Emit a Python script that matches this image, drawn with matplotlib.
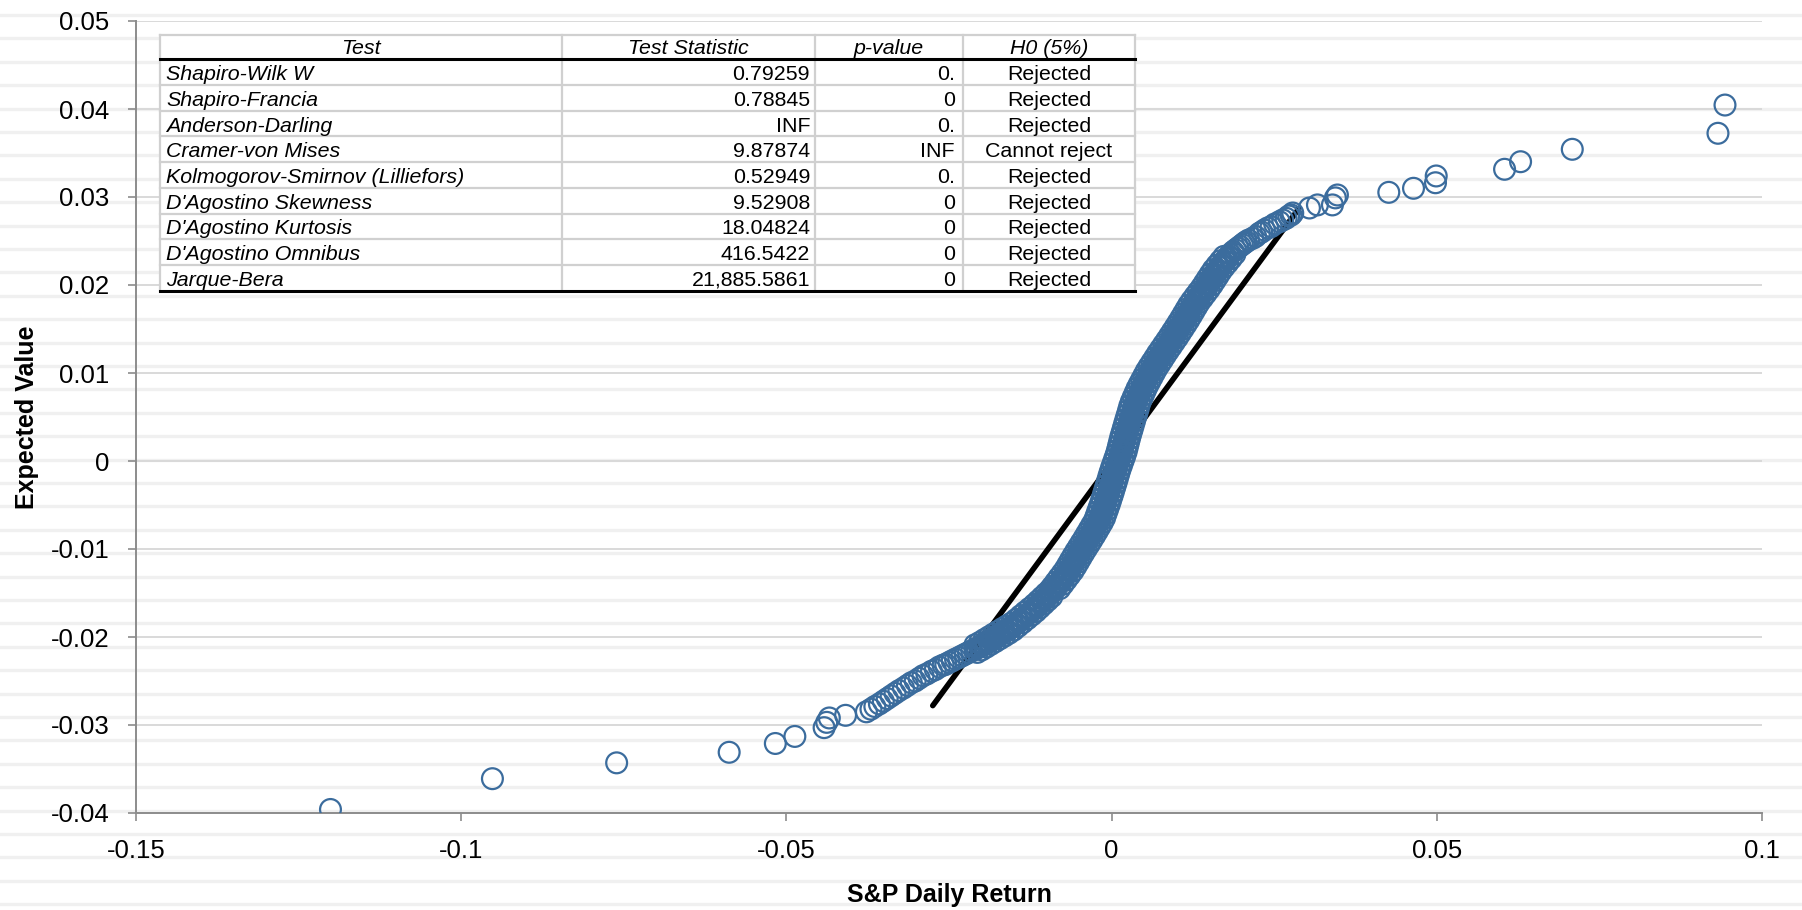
import matplotlib
matplotlib.use('Agg')
import matplotlib.pyplot as plt
from matplotlib.lines import Line2D
from matplotlib.patches import Rectangle
from matplotlib.ticker import FuncFormatter, MultipleLocator

plt.rcParams['font.family'] = ['Liberation Sans', 'DejaVu Sans']

# ---- data --------------------------------------------------------------
# tails and the sparse ring section: S&P daily return (x), expected value (y)
tail_return = [
    -0.1201, -0.0952, -0.0761, -0.0588, -0.0517, -0.0487, -0.0442, -0.0438, -0.0434, -0.0409, -0.0377,
    -0.0370, -0.0364, -0.0357, -0.0351, -0.0345, -0.0339, -0.0333, -0.0327, -0.0320, -0.0314,
    -0.0308, -0.0302, -0.0296, -0.0290, -0.0284, -0.0277, -0.0271, -0.0265, -0.0259,
    -0.0255, -0.0250, -0.0245, -0.0240, -0.0235, -0.0230, -0.0225, -0.0220, -0.0215,
    0.01869, 0.01905, 0.0194, 0.01976, 0.02011, 0.02041,
    0.02068, 0.02107, 0.02169, 0.02215, 0.02272, 0.02307, 0.02349, 0.0240, 0.02452, 0.02508,
    0.0258, 0.02631, 0.02683, 0.02723, 0.0276, 0.02785,
    0.03042, 0.03165, 0.03395, 0.03441, 0.03472,
    0.04262, 0.04642, 0.0498, 0.04991, 0.06042, 0.06288, 0.07083, 0.09323, 0.09431,
]
tail_expected = [
    -0.0396, -0.0361, -0.0343, -0.0331, -0.0321, -0.0313, -0.0303, -0.0297, -0.0292, -0.0289, -0.0285,
    -0.0282, -0.0279, -0.0276, -0.0273, -0.0270, -0.0267, -0.0264, -0.0261, -0.0258, -0.0255,
    -0.0252, -0.0250, -0.0247, -0.0244, -0.0242, -0.0239, -0.0237, -0.0234, -0.0232,
    -0.0231, -0.02289, -0.0227, -0.02251, -0.02233, -0.02214, -0.02195, -0.02176, -0.02157,
    0.0238, 0.024, 0.0242, 0.0244, 0.0246, 0.02477,
    0.02492, 0.02511, 0.02531, 0.02551, 0.02588, 0.02602, 0.02625, 0.02648, 0.02663, 0.02693,
    0.02719, 0.02739, 0.02758, 0.02784, 0.02795, 0.02818,
    0.02875, 0.0291, 0.0291, 0.0299, 0.03023,
    0.03053, 0.03099, 0.03162, 0.03239, 0.03315, 0.03401, 0.03542, 0.03724, 0.04045,
]

# dense middle of the band, along its centre
core_return = [
    -0.0210, -0.02065, -0.0203, -0.01995, -0.0196, -0.01925, -0.0189, -0.01855, -0.0182, -0.01785,
    -0.0175, -0.01715, -0.0168, -0.01645, -0.0161, -0.01575, -0.0154, -0.01505, -0.0147, -0.01435,
    -0.0140, -0.01365, -0.0133, -0.01295, -0.0126, -0.01225, -0.0119, -0.0116, -0.0113, -0.0110,
    -0.0107, -0.0104, -0.0101, -0.0098, -0.0095, -0.0092, -0.0089,
    -0.00866, -0.0084, -0.00815, -0.00789, -0.00764, -0.00739, -0.00713, -0.00688, -0.00662, -0.0064,
    -0.0062, -0.0060, -0.0058, -0.00561, -0.00541, -0.00521, -0.00501, -0.0048, -0.00459, -0.00437,
    -0.00416, -0.00395, -0.00374, -0.00352, -0.00332, -0.00312, -0.00292, -0.00272, -0.00253, -0.00233,
    -0.00213, -0.00193, -0.00179, -0.00168, -0.00156, -0.00144, -0.00132, -0.0012, -0.00108, -0.00096,
    -0.00086, -0.00075, -0.00064, -0.00054, -0.00043, -0.00033, -0.00022, -0.00012, -0.00002, 0.00008,
    0.00018, 0.00028, 0.00038, 0.00048, 0.00058, 0.0007, 0.00082, 0.00094, 0.00106, 0.00118,
    0.0013, 0.00141, 0.00152, 0.00161, 0.00169, 0.00178, 0.00186, 0.00195, 0.00203, 0.00212,
    0.00222, 0.00232, 0.00242, 0.00251, 0.00261, 0.00271, 0.00281, 0.00291, 0.00301, 0.00311,
    0.00321, 0.00331, 0.00341, 0.0035, 0.0036, 0.00374, 0.00388, 0.00403, 0.00418, 0.00433,
    0.00448, 0.00462, 0.00479, 0.00497, 0.00515, 0.00533, 0.00551, 0.00569, 0.00587, 0.00605,
    0.00625, 0.00647, 0.00669, 0.00691, 0.00713, 0.00735, 0.00756, 0.00778, 0.00801, 0.00825,
    0.00848, 0.00871, 0.00894, 0.00918, 0.00941, 0.00963, 0.00985, 0.01007, 0.01029, 0.01051,
    0.01073, 0.01094, 0.01116, 0.01136, 0.01156, 0.01176, 0.01196, 0.01216, 0.01236, 0.01256,
    0.01277, 0.01303, 0.01328, 0.01353, 0.01379, 0.01404, 0.0143, 0.01455, 0.01477, 0.01499,
    0.01521, 0.01543, 0.01565, 0.01587, 0.01608, 0.01632, 0.01659, 0.01687, 0.01715, 0.01742,
    0.0177, 0.01798, 0.01825,
]
core_expected = [
    -0.02139, -0.02125, -0.02112, -0.02096, -0.0208, -0.02065, -0.02049, -0.02033, -0.02017, -0.02002,
    -0.01986, -0.0197, -0.01954, -0.01939, -0.01923, -0.01907, -0.01891, -0.01872, -0.01851, -0.01829,
    -0.01808, -0.01787, -0.01765, -0.01744, -0.01723, -0.01701, -0.0168, -0.0166, -0.01639, -0.01618,
    -0.01597, -0.01576, -0.01555, -0.01534, -0.01513, -0.01492, -0.01472,
    -0.0145, -0.01425, -0.014, -0.01375, -0.0135, -0.01325, -0.013, -0.01275, -0.0125, -0.01225,
    -0.012, -0.01175, -0.0115, -0.01125, -0.011, -0.01075, -0.0105, -0.01025, -0.01, -0.00975,
    -0.0095, -0.00925, -0.009, -0.00875, -0.0085, -0.00825, -0.008, -0.00775, -0.0075, -0.00725,
    -0.007, -0.00675, -0.0065, -0.00625, -0.006, -0.00575, -0.0055, -0.00525, -0.005, -0.00475,
    -0.0045, -0.00425, -0.004, -0.00375, -0.0035, -0.00325, -0.003, -0.00275, -0.0025, -0.00225,
    -0.002, -0.00175, -0.0015, -0.00125, -0.001, -0.00075, -0.0005, -0.00025, 0.0, 0.00025,
    0.0005, 0.00075, 0.001, 0.00125, 0.0015, 0.00175, 0.002, 0.00225, 0.0025, 0.00275,
    0.003, 0.00325, 0.0035, 0.00375, 0.004, 0.00425, 0.0045, 0.00475, 0.005, 0.00525,
    0.0055, 0.00575, 0.006, 0.00625, 0.0065, 0.00675, 0.007, 0.00725, 0.0075, 0.00775,
    0.008, 0.00825, 0.0085, 0.00875, 0.009, 0.00925, 0.0095, 0.00975, 0.01, 0.01025,
    0.0105, 0.01075, 0.011, 0.01125, 0.0115, 0.01175, 0.012, 0.01225, 0.0125, 0.01275,
    0.013, 0.01325, 0.0135, 0.01375, 0.014, 0.01425, 0.0145, 0.01475, 0.015, 0.01525,
    0.0155, 0.01575, 0.016, 0.01625, 0.0165, 0.01675, 0.017, 0.01725, 0.0175, 0.01775,
    0.018, 0.01825, 0.0185, 0.01875, 0.019, 0.01925, 0.0195, 0.01975, 0.02, 0.02025,
    0.0205, 0.02075, 0.021, 0.02125, 0.0215, 0.02175, 0.022, 0.02225, 0.0225, 0.02275,
    0.023, 0.02325, 0.0235,
]

# dense middle of the band, points spread either side of the centre
spread_return = [
    -0.0210, -0.02065, -0.0203, -0.01995, -0.0196, -0.01925, -0.0189, -0.01855, -0.0182, -0.01785,
    -0.0175, -0.01715, -0.0168, -0.01645, -0.0161, -0.01575, -0.0154, -0.01505, -0.0147, -0.01435,
    -0.0140, -0.01365, -0.0133, -0.01295, -0.0126, -0.01225, -0.0119, -0.0116, -0.0113, -0.0110,
    -0.0107, -0.0104, -0.0101, -0.0098, -0.0095, -0.0092, -0.0089,
    -0.00796, -0.0091, -0.00745, -0.00859, -0.00694, -0.00809, -0.00643, -0.00758, -0.00592, -0.0071,
    -0.0055, -0.0067, -0.0051, -0.00631, -0.00471, -0.00591, -0.00431, -0.0055, -0.00389, -0.00507,
    -0.00346, -0.00465, -0.00304, -0.00422, -0.00262, -0.00382, -0.00222, -0.00342, -0.00183, -0.00303,
    -0.00143, -0.00263, -0.00109, -0.00238, -0.00086, -0.00214, -0.00062, -0.0019, -0.00038, -0.00166,
    -0.00016, -0.00145, 0.00006, -0.00124, 0.00027, -0.00103, 0.00048, -0.00082, 0.00068, -0.00062,
    0.00088, -0.00042, 0.00108, -0.00022, 0.00128, 0.0, 0.00152, 0.00024, 0.00176, 0.00048,
    0.002, 0.00071, 0.00222, 0.00091, 0.00239, 0.00108, 0.00256, 0.00125, 0.00273, 0.00142,
    0.00292, 0.00162, 0.00312, 0.00181, 0.00331, 0.00201, 0.00351, 0.00221, 0.00371, 0.00241,
    0.00391, 0.00261, 0.00411, 0.0028, 0.0043, 0.00304, 0.00458, 0.00333, 0.00488, 0.00363,
    0.00518, 0.00392, 0.00549, 0.00427, 0.00585, 0.00463, 0.00621, 0.00499, 0.00657, 0.00535,
    0.00695, 0.00577, 0.00739, 0.00621, 0.00783, 0.00665, 0.00826, 0.00708, 0.00871, 0.00755,
    0.00918, 0.00801, 0.00964, 0.00848, 0.01011, 0.00893, 0.01055, 0.00937, 0.01099, 0.00981,
    0.01143, 0.01024, 0.01186, 0.01066, 0.01226, 0.01106, 0.01266, 0.01146, 0.01306, 0.01186,
    0.01347, 0.01233, 0.01398, 0.01283, 0.01449, 0.01334, 0.0150, 0.01385, 0.01547, 0.01429,
    0.01591, 0.01473, 0.01635, 0.01517, 0.01678, 0.01562, 0.01729, 0.01617, 0.01785, 0.01672,
    0.0184, 0.01728, 0.01895,
]
spread_expected = [
    -0.02089, -0.02175, -0.02062, -0.02146, -0.0203, -0.02115, -0.01999, -0.02083, -0.01967, -0.02052,
    -0.01936, -0.0202, -0.01904, -0.01989, -0.01873, -0.01957, -0.01841, -0.01922, -0.01801, -0.01879,
    -0.01758, -0.01837, -0.01715, -0.01794, -0.01673, -0.01751, -0.0163, -0.0171, -0.01589, -0.01668,
    -0.01547, -0.01626, -0.01505, -0.01584, -0.01463, -0.01542, -0.01422,
    -0.0145, -0.01425, -0.014, -0.01375, -0.0135, -0.01325, -0.013, -0.01275, -0.0125, -0.01225,
    -0.012, -0.01175, -0.0115, -0.01125, -0.011, -0.01075, -0.0105, -0.01025, -0.01, -0.00975,
    -0.0095, -0.00925, -0.009, -0.00875, -0.0085, -0.00825, -0.008, -0.00775, -0.0075, -0.00725,
    -0.007, -0.00675, -0.0065, -0.00625, -0.006, -0.00575, -0.0055, -0.00525, -0.005, -0.00475,
    -0.0045, -0.00425, -0.004, -0.00375, -0.0035, -0.00325, -0.003, -0.00275, -0.0025, -0.00225,
    -0.002, -0.00175, -0.0015, -0.00125, -0.001, -0.00075, -0.0005, -0.00025, 0.0, 0.00025,
    0.0005, 0.00075, 0.001, 0.00125, 0.0015, 0.00175, 0.002, 0.00225, 0.0025, 0.00275,
    0.003, 0.00325, 0.0035, 0.00375, 0.004, 0.00425, 0.0045, 0.00475, 0.005, 0.00525,
    0.0055, 0.00575, 0.006, 0.00625, 0.0065, 0.00675, 0.007, 0.00725, 0.0075, 0.00775,
    0.008, 0.00825, 0.0085, 0.00875, 0.009, 0.00925, 0.0095, 0.00975, 0.01, 0.01025,
    0.0105, 0.01075, 0.011, 0.01125, 0.0115, 0.01175, 0.012, 0.01225, 0.0125, 0.01275,
    0.013, 0.01325, 0.0135, 0.01375, 0.014, 0.01425, 0.0145, 0.01475, 0.015, 0.01525,
    0.0155, 0.01575, 0.016, 0.01625, 0.0165, 0.01675, 0.017, 0.01725, 0.0175, 0.01775,
    0.018, 0.01825, 0.0185, 0.01875, 0.019, 0.01925, 0.0195, 0.01975, 0.02, 0.02025,
    0.0205, 0.02075, 0.021, 0.02125, 0.0215, 0.02175, 0.022, 0.02225, 0.0225, 0.02275,
    0.023, 0.02325, 0.0235,
]

# reference line
line_x = [-0.0275, 0.0288]
line_y = [-0.0278, 0.0287]

# normality test table
table_header = ['Test', 'Test Statistic', 'p-value', 'H0 (5%)']
test_names = ['Shapiro-Wilk W', 'Shapiro-Francia', 'Anderson-Darling', 'Cramer-von Mises',
              'Kolmogorov-Smirnov (Lilliefors)', "D'Agostino Skewness", "D'Agostino Kurtosis",
              "D'Agostino Omnibus", 'Jarque-Bera']
test_stats = ['0.79259', '0.78845', 'INF', '9.87874', '0.52949', '9.52908', '18.04824',
              '416.5422', '21,885.5861']
p_values = ['0.', '0', '0.', 'INF', '0.', '0', '0', '0', '0']
h0_results = ['Rejected', 'Rejected', 'Rejected', 'Cannot reject', 'Rejected', 'Rejected',
              'Rejected', 'Rejected', 'Rejected']

daily_return = tail_return + core_return + spread_return
expected_value = tail_expected + core_expected + spread_expected

# ---- figure -------------------------------------------------------------
W, H = 1802, 910
fig = plt.figure(figsize=(W / 100, H / 100), dpi=100)

# faint spreadsheet row stripes behind everything
for k in range(39):
    yy = 1 - (15 + 23.4 * k) / H
    fig.add_artist(Line2D([0, 1], [yy, yy], transform=fig.transFigure,
                          color='#f0f0f0', lw=2.4, zorder=-5))

AX_L, AX_R, AX_T, AX_B = 136, 1762, 21, 813
ax = fig.add_axes([AX_L / W, 1 - AX_B / H, (AX_R - AX_L) / W, (AX_B - AX_T) / H])
ax.patch.set_alpha(0)

ax.plot(line_x, line_y, color='black', lw=4.0, solid_capstyle='round', zorder=2)
ax.scatter(daily_return, expected_value, s=225, facecolors='none',
           edgecolors='#3b6c9d', linewidths=1.6, zorder=3)

ax.set_xlim(-0.15, 0.1)
ax.set_ylim(-0.04, 0.05)
ax.xaxis.set_major_locator(MultipleLocator(0.05))
ax.yaxis.set_major_locator(MultipleLocator(0.01))
fmt = FuncFormatter(lambda v, p: '%g' % round(v, 4))
ax.xaxis.set_major_formatter(fmt)
ax.yaxis.set_major_formatter(fmt)

ax.yaxis.grid(True, color='#d9d9d9', lw=1.4)
ax.set_axisbelow(True)
for side in ['top', 'right']:
    ax.spines[side].set_visible(False)
for side in ['left', 'bottom']:
    ax.spines[side].set_color('#8c8c8c')
    ax.spines[side].set_linewidth(1.4)
ax.tick_params(axis='both', direction='out', length=6, width=1.2, color='#8c8c8c',
               labelsize=18.5, labelcolor='black')
ax.tick_params(axis='y', pad=13)
ax.tick_params(axis='x', pad=13)

ax.set_xlabel('S&P Daily Return', fontsize=18, fontweight='bold')
ax.xaxis.set_label_coords(0.5, -0.104)
ax.xaxis.label.set_va('center')
ax.set_ylabel('Expected Value', fontsize=18, fontweight='bold')
ax.yaxis.set_label_coords(-0.067, 0.5)
ax.yaxis.label.set_va('center')

# ---- table (pixel layout -> axes fraction) ------------------------------
def to_ax(px, py):
    return (px - AX_L) / (AX_R - AX_L), (AX_B - py) / (AX_B - AX_T)

col_edges = [160, 562, 815, 963, 1135]
top, head_bot, row_h = 35, 59.3, 25.7
n_rows = len(test_names)
bottom = head_bot + n_rows * row_h
tkw = dict(transform=ax.transAxes, clip_on=False, zorder=6)

x0, y0 = to_ax(col_edges[0], bottom)
x1, y1 = to_ax(col_edges[-1], top)
ax.add_patch(Rectangle((x0, y0), x1 - x0, y1 - y0, facecolor='white',
                       edgecolor='none', zorder=5, transform=ax.transAxes, clip_on=False))

def hline(py, color, lw):
    xa, ya = to_ax(col_edges[0], py)
    xb, _ = to_ax(col_edges[-1], py)
    ax.add_line(Line2D([xa, xb], [ya, ya], color=color, lw=lw, **tkw))

hline(top, '#d0d0d0', 1.6)
for i in range(1, n_rows):
    hline(head_bot + i * row_h, '#d0d0d0', 1.6)
for cx in col_edges:
    xa, ya = to_ax(cx, top)
    _, yb = to_ax(cx, bottom)
    ax.add_line(Line2D([xa, xa], [ya, yb], color='#d0d0d0', lw=1.6, **tkw))
hline(head_bot, 'black', 2.2)
hline(bottom, 'black', 2.2)

fs = 15.4
for j, label in enumerate(table_header):
    cx, cy = to_ax((col_edges[j] + col_edges[j + 1]) / 2, (top + head_bot) / 2 + 1)
    ax.text(cx, cy, label, ha='center', va='center', fontsize=fs, style='italic', **tkw)

for i in range(n_rows):
    cy_px = head_bot + (i + 0.5) * row_h + 2.5
    _, cy = to_ax(0, cy_px)
    ax.text(to_ax(col_edges[0] + 6, 0)[0], cy, test_names[i], ha='left', va='center',
            fontsize=fs, style='italic', **tkw)
    ax.text(to_ax(col_edges[2] - 5, 0)[0], cy, test_stats[i], ha='right', va='center',
            fontsize=fs, **tkw)
    ax.text(to_ax(col_edges[3] - 8, 0)[0], cy, p_values[i], ha='right', va='center',
            fontsize=fs, **tkw)
    ax.text(to_ax((col_edges[3] + col_edges[4]) / 2, 0)[0], cy, h0_results[i], ha='center',
            va='center', fontsize=fs, **tkw)

fig.savefig('out.png', dpi=100, facecolor='white')
